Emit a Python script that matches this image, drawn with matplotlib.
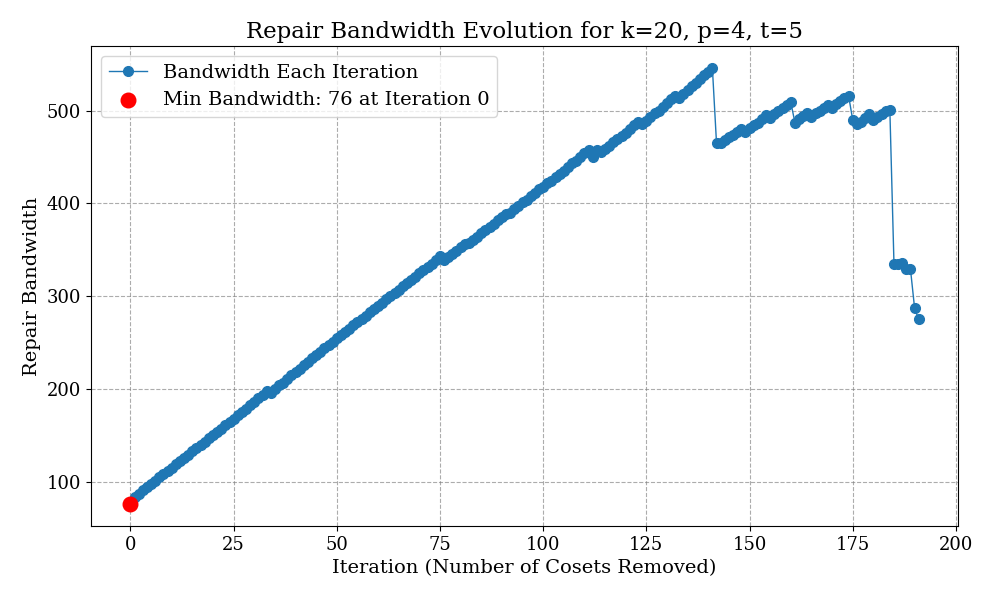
import matplotlib
matplotlib.use('Agg')
import matplotlib.pyplot as plt

plt.rcParams['font.family'] = 'DejaVu Serif'

bandwidth = [
    76, 84, 87, 91, 94, 98, 101, 105, 108, 112,
    115, 119, 122, 126, 129, 133, 136, 140, 143, 147,
    150, 154, 157, 161, 164, 168, 172, 175, 179, 183,
    186, 190, 194, 198, 196, 200, 204, 207, 211, 215,
    218, 222, 226, 229, 233, 237, 240, 244, 248, 251,
    255, 258, 262, 265, 269, 272, 276, 279, 283, 286,
    290, 293, 297, 300, 304, 307, 311, 314, 318, 321,
    325, 328, 332, 335, 339, 343, 339, 342, 346, 349,
    353, 356, 357, 361, 364, 368, 371, 375, 378, 382,
    385, 389, 390, 394, 397, 401, 404, 408, 411, 415,
    418, 422, 424, 428, 432, 435, 439, 443, 446, 450,
    454, 458, 450, 457, 455, 459, 462, 466, 469, 473,
    476, 480, 484, 488, 485, 489, 493, 497, 500, 504,
    508, 512, 516, 514, 518, 522, 526, 530, 534, 538,
    542, 546, 465, 465, 468, 471, 474, 477, 480, 477,
    481, 484, 487, 491, 495, 492, 496, 500, 503, 506,
    509, 487, 491, 494, 497, 493, 497, 500, 503, 506,
    503, 507, 510, 513, 516, 490, 486, 488, 492, 496,
    490, 493, 496, 499, 501, 335, 335, 336, 329, 329,
    287, 275,
]
iterations = list(range(len(bandwidth)))

min_bw = min(bandwidth)
min_iter = bandwidth.index(min_bw)

fig, ax = plt.subplots(figsize=(9.96, 5.98), dpi=100)
fig.subplots_adjust(left=0.0914, right=0.962, bottom=0.1204, top=0.923)

ax.plot(iterations, bandwidth, marker='o', markersize=7, linewidth=1,
        color='#1f77b4', label='Bandwidth Each Iteration')
ax.scatter(min_iter, min_bw, color='red', s=110, zorder=5,
           label=f'Min Bandwidth: {min_bw} at Iteration {min_iter}')

ax.set_title('Repair Bandwidth Evolution for k=20, p=4, t=5', fontsize=16.5)
ax.set_xlabel('Iteration (Number of Cosets Removed)', fontsize=14)
ax.set_ylabel('Repair Bandwidth', fontsize=14)
ax.tick_params(labelsize=13)
ax.grid(True, linestyle='--', color='gray', alpha=0.65)
ax.legend(fontsize=14, loc='upper left')

fig.savefig('out.png', dpi=100)
